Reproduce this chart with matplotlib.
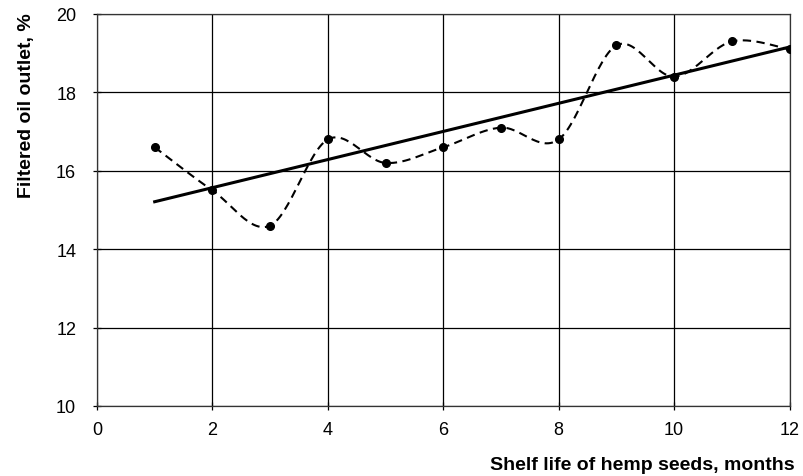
import numpy as np
import matplotlib
matplotlib.use("Agg")
import matplotlib.pyplot as plt

plt.rcParams['font.family'] = ['Liberation Sans', 'DejaVu Sans']

# months of storage and measured filtered oil outlet
months = [1, 2, 3, 4, 5, 6, 7, 8, 9, 10, 11, 12]
oil_outlet = [16.6, 15.5, 14.6, 16.8, 16.2, 16.6, 17.1, 16.8, 19.2, 18.4, 19.3, 19.1]

x_ticks = [0, 2, 4, 6, 8, 10, 12]
y_ticks = [10, 12, 14, 16, 18, 20]


def smooth_curve(x, y, n=30):
    # Excel-style smoothed line (Catmull-Rom via cubic Bezier segments)
    pts = np.column_stack([x, y]).astype(float)
    padded = np.vstack([pts[0], pts, pts[-1]])
    out = []
    t = np.linspace(0, 1, n)[:, None]
    for i in range(1, len(padded) - 2):
        p0, p3 = padded[i], padded[i + 1]
        p1 = p0 + (padded[i + 1] - padded[i - 1]) / 6
        p2 = p3 - (padded[i + 2] - padded[i]) / 6
        seg = ((1 - t) ** 3) * p0 + 3 * ((1 - t) ** 2) * t * p1 \
            + 3 * (1 - t) * t ** 2 * p2 + t ** 3 * p3
        out.append(seg if i == 1 else seg[1:])
    seg = np.vstack(out)
    return seg[:, 0], seg[:, 1]


fig = plt.figure(figsize=(8.04, 4.77), dpi=100)
ax = fig.add_axes([0.1206, 0.1468, 0.8614, 0.8218])

sx, sy = smooth_curve(months, oil_outlet)
ax.plot(sx, sy, color='black', linestyle=(0, (4, 2.6)), linewidth=1.5, zorder=3)
ax.plot(months, oil_outlet, 'o', color='black', markersize=5.5, zorder=4)

# linear trend
k, b = np.polyfit(months, oil_outlet, 1)
xt = np.array([months[0], months[-1]])
ax.plot(xt, k * xt + b, color='black', linewidth=2.2, zorder=3)

ax.set_xlim(0, 12)
ax.set_ylim(10, 20)
ax.set_xticks(x_ticks)
ax.set_yticks(y_ticks)
ax.grid(True, color='black', linewidth=0.9)
ax.set_axisbelow(True)
for s in ax.spines.values():
    s.set_color('#333333')
    s.set_linewidth(0.9)
ax.tick_params(axis='both', direction='inout', length=6, width=0.9,
               labelsize=13, colors='black')
ax.tick_params(axis='x', pad=8)
ax.tick_params(axis='y', pad=12)

fig.text(27 / 804, 1 - 13 / 477, 'Filtered oil outlet, %', rotation=90,
         ha='center', va='top', fontsize=14, fontweight='bold')
fig.text(795 / 804, 1 - 466 / 477, 'Shelf life of hemp seeds, months',
         ha='right', va='center', fontsize=14, fontweight='bold')

fig.savefig('out.png', dpi=100)
